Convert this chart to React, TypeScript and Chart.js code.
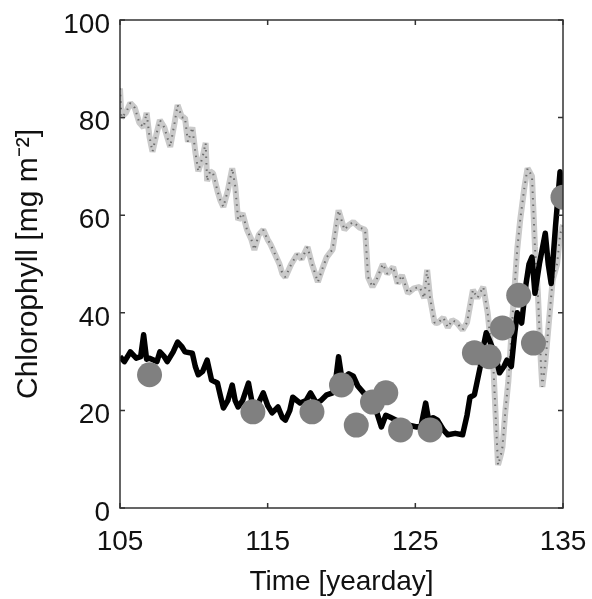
import React, { useEffect, useRef } from "react";
import { Chart, registerables } from "chart.js";

Chart.register(...registerables);

// Grey (model / ensemble) trace: [yearday, chlorophyll]
const greyDays = [
  105.0, 105.1, 105.4, 105.7, 106.0, 106.3, 106.6, 106.8, 107.0, 107.2, 107.5, 107.7, 108.0, 108.2, 108.4, 108.7,
  108.9, 109.2, 109.4, 109.6, 109.9, 110.1, 110.3, 110.6, 110.8, 110.9, 111.1, 111.3, 111.6, 111.8, 112.0, 112.3,
  112.6, 112.8, 113.0, 113.3, 113.6, 113.9, 114.1, 114.4, 114.7, 115.0, 115.2, 115.5, 115.8, 116.0, 116.2, 116.6,
  117.0, 117.3, 117.7, 118.0, 118.4, 118.7, 119.0, 119.4, 119.8, 120.0, 120.2, 120.5, 120.8, 121.2, 121.6, 121.8,
  122.1, 122.4, 122.8, 123.1, 123.5, 123.8, 124.1, 124.5, 124.9, 125.3, 125.6, 125.8, 126.0, 126.3, 126.5, 126.9,
  127.2, 127.5, 127.8, 128.2, 128.5, 128.9, 129.2, 129.6, 129.9, 130.1, 130.3, 130.5, 130.6, 130.8, 130.9, 131.1,
  131.3, 131.6, 131.9, 132.1, 132.4, 132.6, 132.9, 133.1, 133.3, 133.5, 133.6, 133.8, 134.1, 134.3, 134.6, 134.8,
  135.0,
];
const greyValues = [
  86, 80, 81, 83, 82, 79, 78, 81, 76, 73, 77, 79.5, 78, 76, 74, 79,
  82.6, 80, 80, 75, 78, 73, 69, 72, 74.8, 67, 69, 68.6, 65, 63, 61.7, 65,
  69.6, 66, 59, 60.4, 57, 55, 52.9, 56, 57, 55, 54, 52, 50, 48, 47.3, 50,
  52, 51, 53.5, 50, 46.3, 49, 51.4, 53, 61, 59, 57, 58, 58.6, 57.5, 57, 47.3,
  45.3, 47, 50, 48, 49.4, 46, 47.7, 44, 45, 45.3, 43, 48.8, 43, 38, 37.9, 39,
  37, 38.5, 38, 36.5, 38, 44.7, 43, 45.3, 40, 34, 28, 15, 8.8, 11, 12.5, 20,
  26, 40, 53, 59, 66, 69.6, 68, 53.5, 44, 30, 24.8, 29.7, 40, 46.7, 50, 56,
  58,
];

// Black (observed / simulated) trace
const blackDays = [
  105.0, 105.3, 105.7, 106.1, 106.4, 106.6, 106.8, 107.0, 107.5, 107.7, 108.0, 108.2, 108.6, 108.9, 109.2, 109.4,
  109.9, 110.1, 110.3, 110.6, 110.9, 111.2, 111.6, 111.8, 112.0, 112.3, 112.6, 112.8, 113.0, 113.3, 113.7, 114.0,
  114.3, 114.7, 115.0, 115.3, 115.7, 116.0, 116.2, 116.5, 116.7, 117.2, 117.6, 117.9, 118.3, 118.6, 119.0, 119.4,
  119.6, 119.8, 120.0, 120.2, 120.5, 120.8, 121.1, 121.5, 121.8, 122.1, 122.4, 122.7, 123.0, 123.3, 123.7, 124.0,
  124.5, 125.1, 125.4, 125.7, 125.9, 126.2, 126.5, 126.9, 127.2, 127.7, 128.2, 128.5, 128.7, 129.0, 129.4, 129.6,
  129.8, 130.0, 130.2, 130.5, 130.7, 131.0, 131.2, 131.5, 131.7, 131.9, 132.2, 132.5, 132.7, 132.9, 133.1, 133.4,
  133.8, 134.0, 134.2, 134.5, 134.8, 135.0,
];
const blackValues = [
  31, 30, 32, 30.7, 31, 35.5, 30.5, 30.7, 30, 32, 31, 30, 32, 34, 33, 32,
  31.7, 29, 27.3, 28, 30.3, 26.2, 25.6, 23, 20.5, 22, 25.2, 22, 20.7, 22, 25.6, 20.7,
  21, 23.6, 21, 19.5, 20.7, 18.5, 18, 20, 22.7, 21.5, 22, 23.6, 21.5, 22, 23.2, 23.6,
  26, 31, 27, 26.8, 27.5, 27, 25, 23.6, 22, 21, 19.5, 16.6, 19, 18.6, 18, 17.4,
  17, 16.6, 17, 21.5, 18, 18.5, 18, 16, 15, 15.3, 15, 19, 22.7, 23.2, 29, 33,
  35.9, 34.5, 33, 30.3, 27.7, 29, 30.3, 29, 35, 40, 37.9, 46, 50, 51.4, 44, 50,
  56.3, 50, 46, 58, 68.9, 63,
];

// Discrete samples (grey dots)
const sampleDays = [107, 114, 118, 120, 121, 122.1, 123, 124, 126, 129, 130, 130.9, 132, 133, 135];
const sampleValues = [27.3, 19.7, 19.7, 25.2, 17, 21.7, 23.6, 16, 16, 31.8, 31, 36.9, 43.6, 33.8, 63.7];

const xTicks = [105, 115, 125, 135];
const yTicks = [0, 20, 40, 60, 80, 100];

const xTitle = "Time [yearday]";
const yTitle = "Chlorophyll [mg m\u207B\u00B2]";

const FONT = "'Liberation Sans', Arial, Helvetica, sans-serif";

const toXY = (xs: number[], ys: number[]) => xs.map((x, i) => ({ x, y: ys[i] }));

const framePlugin = {
  id: "frameTicks",
  afterDatasetsDraw(chart: any) {
    const { ctx, chartArea, scales } = chart;
    const { left, right, top, bottom } = chartArea;
    const L = 5;
    ctx.save();
    ctx.strokeStyle = "#333";
    ctx.lineWidth = 1.5;
    ctx.strokeRect(left, top, right - left, bottom - top);
    ctx.beginPath();
    xTicks.forEach((v) => {
      const px = scales.x.getPixelForValue(v);
      ctx.moveTo(px, bottom);
      ctx.lineTo(px, bottom - L);
      ctx.moveTo(px, top);
      ctx.lineTo(px, top + L);
    });
    yTicks.forEach((v) => {
      const py = scales.y.getPixelForValue(v);
      ctx.moveTo(left, py);
      ctx.lineTo(left + L, py);
      ctx.moveTo(right, py);
      ctx.lineTo(right - L, py);
    });
    ctx.stroke();
    ctx.restore();
  },
};

export default function App() {
  const canvasRef = useRef<HTMLCanvasElement | null>(null);

  useEffect(() => {
    if (!canvasRef.current) return;
    const chart = new Chart(canvasRef.current, {
      type: "line",
      data: {
        datasets: [
          {
            label: "Samples",
            data: toXY(sampleDays, sampleValues),
            showLine: false,
            pointRadius: 12.5,
            pointBackgroundColor: "#808080",
            pointBorderWidth: 0,
            backgroundColor: "#808080",
            borderColor: "#808080",
          },
          {
            label: "Black",
            data: toXY(blackDays, blackValues),
            borderColor: "#000000",
            borderWidth: 5.5,
            pointRadius: 0,
            tension: 0,
            borderJoinStyle: "round",
          },
          {
            label: "Grey speckle",
            data: toXY(greyDays, greyValues),
            borderColor: "rgba(70,70,70,0.7)",
            borderWidth: 2,
            borderDash: [1.5, 5],
            pointRadius: 0,
            tension: 0,
            borderJoinStyle: "bevel",
          },
          {
            label: "Grey",
            data: toXY(greyDays, greyValues),
            borderColor: "#cacaca",
            borderWidth: 6,
            pointRadius: 0,
            tension: 0,
            borderJoinStyle: "bevel",
          },
        ],
      },
      options: {
        responsive: false,
        animation: false,
        devicePixelRatio: 1,
        layout: { padding: { left: 0, right: 29, top: 20, bottom: 0 } },
        plugins: { legend: { display: false }, tooltip: { enabled: false } },
        scales: {
          x: {
            type: "linear",
            min: 105,
            max: 135,
            afterBuildTicks: (s: any) => {
              s.ticks = xTicks.map((v) => ({ value: v }));
            },
            afterFit: (s: any) => {
              s.height = 91;
              s.paddingLeft = 0;
              s.paddingRight = 0;
            },
            grid: { display: false, drawTicks: false },
            border: { display: false },
            ticks: {
              padding: 17,
              color: "#111",
              font: { family: FONT, size: 28 },
              maxRotation: 0,
              autoSkip: false,
            },
            title: {
              display: true,
              text: xTitle,
              color: "#111",
              font: { family: FONT, size: 28 },
              padding: { top: 0, bottom: 0 },
            },
          },
          y: {
            type: "linear",
            min: 0,
            max: 100,
            afterBuildTicks: (s: any) => {
              s.ticks = yTicks.map((v) => ({ value: v }));
            },
            afterFit: (s: any) => {
              s.width = 120;
              s.paddingTop = 0;
              s.paddingBottom = 0;
            },
            grid: { display: false, drawTicks: false },
            border: { display: false },
            ticks: {
              padding: 10,
              labelOffset: 5,
              color: "#111",
              font: { family: FONT, size: 28 },
              autoSkip: false,
            },
            title: {
              display: true,
              text: yTitle,
              color: "#111",
              font: { family: FONT, size: 30 },
              padding: { top: 11, bottom: 0 },
            },
          },
        },
      },
      plugins: [framePlugin],
    });
    return () => chart.destroy();
  }, []);

  return (
    <div style={{ position: "absolute", left: 0, top: 0, width: 592, height: 599, background: "#fff" }}>
      <canvas ref={canvasRef} width={592} height={599} />
    </div>
  );
}
